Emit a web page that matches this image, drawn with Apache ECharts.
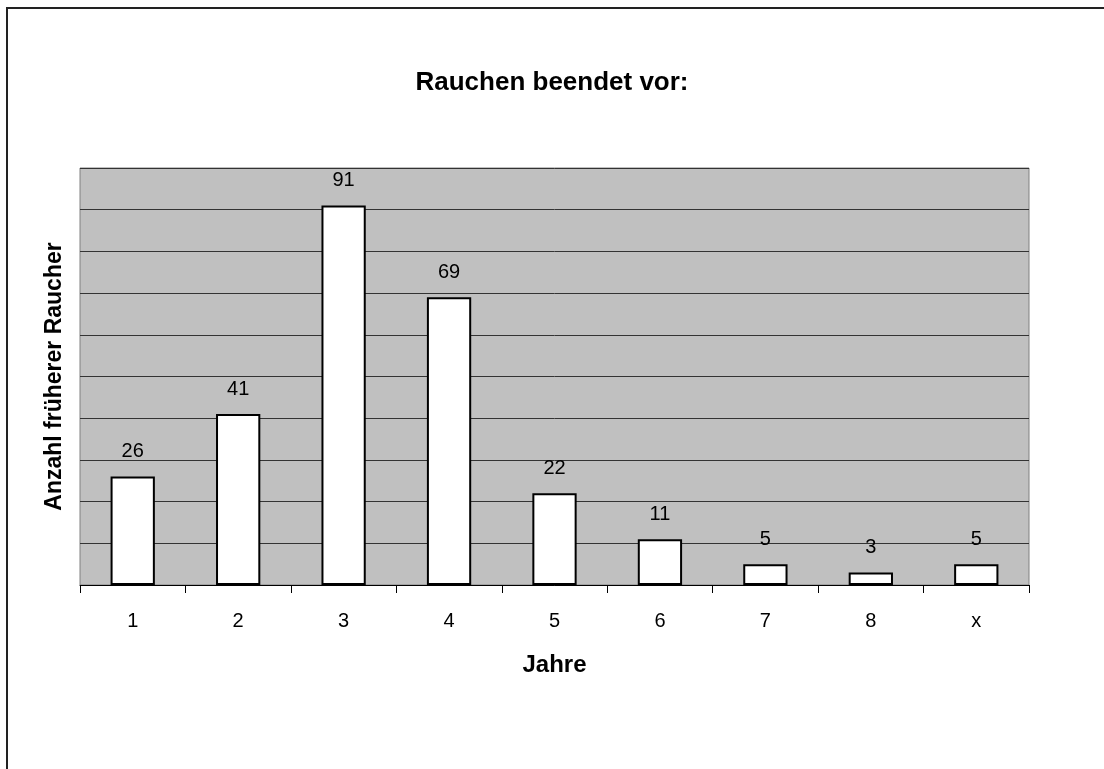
<!DOCTYPE html>
<html><head><meta charset="utf-8">
<script src="https://cdn.jsdelivr.net/npm/echarts@6/dist/echarts.min.js"></script>
<style>html,body{margin:0;padding:0;background:#fff}#c{width:1104px;height:769px}</style>
</head><body><div id="c"></div>
<script>
const categories = ['1','2','3','4','5','6','7','8','x'];
const values = [26, 41, 91, 69, 22, 11, 5, 3, 5];
const titleText = 'Rauchen beendet vor:';
const xName = 'Jahre';
const yName = 'Anzahl früherer Raucher';

const chart = echarts.init(document.getElementById('c'), null, {renderer:'canvas'});
const F = 'Liberation Sans, Arial, sans-serif';
chart.setOption({
  animation: false,
  backgroundColor: '#fff',
  title: {text: titleText, left: 'center', top: 65, textStyle: {fontFamily: F, fontSize: 26, fontWeight: 'bold', color: '#000'}},
  graphic: [{type:'rect', shape:{x:7, y:8, width:1300, height:1000}, style:{fill:'none', stroke:'#222', lineWidth:2}, silent:true, z:-1}],
  grid: {left: 80, right: 75, top: 168, bottom: 184, show: true, backgroundColor: '#c0c0c0', borderColor: '#808080', borderWidth: 1},
  xAxis: {
    type: 'category', data: categories,
    name: xName, nameLocation: 'middle', nameGap: 68,
    nameTextStyle: {fontFamily: F, fontSize: 24, fontWeight: 'bold', color: '#000'},
    axisLine: {lineStyle: {color: '#000', width: 1}},
    axisTick: {show: true, length: 8, lineStyle: {color: '#000'}},
    axisLabel: {fontFamily: F, fontSize: 20, color: '#000', margin: 26}
  },
  yAxis: {
    type: 'value', min: 0, max: 100, interval: 10,
    name: yName, nameLocation: 'middle', nameGap: 14,
    nameTextStyle: {fontFamily: F, fontSize: 23, fontWeight: 'bold', color: '#000'},
    axisLine: {show: false}, axisTick: {show: false}, axisLabel: {show: false},
    splitLine: {show: true, lineStyle: {color: '#333', width: 1}}
  },
  series: [{
    type: 'bar', data: values, barWidth: '42%',
    itemStyle: {color: '#fff', borderColor: '#000', borderWidth: 2},
    label: {show: true, position: 'top', distance: 15, fontFamily: F, fontSize: 20, color: '#000'}
  }]
});
</script></body></html>
